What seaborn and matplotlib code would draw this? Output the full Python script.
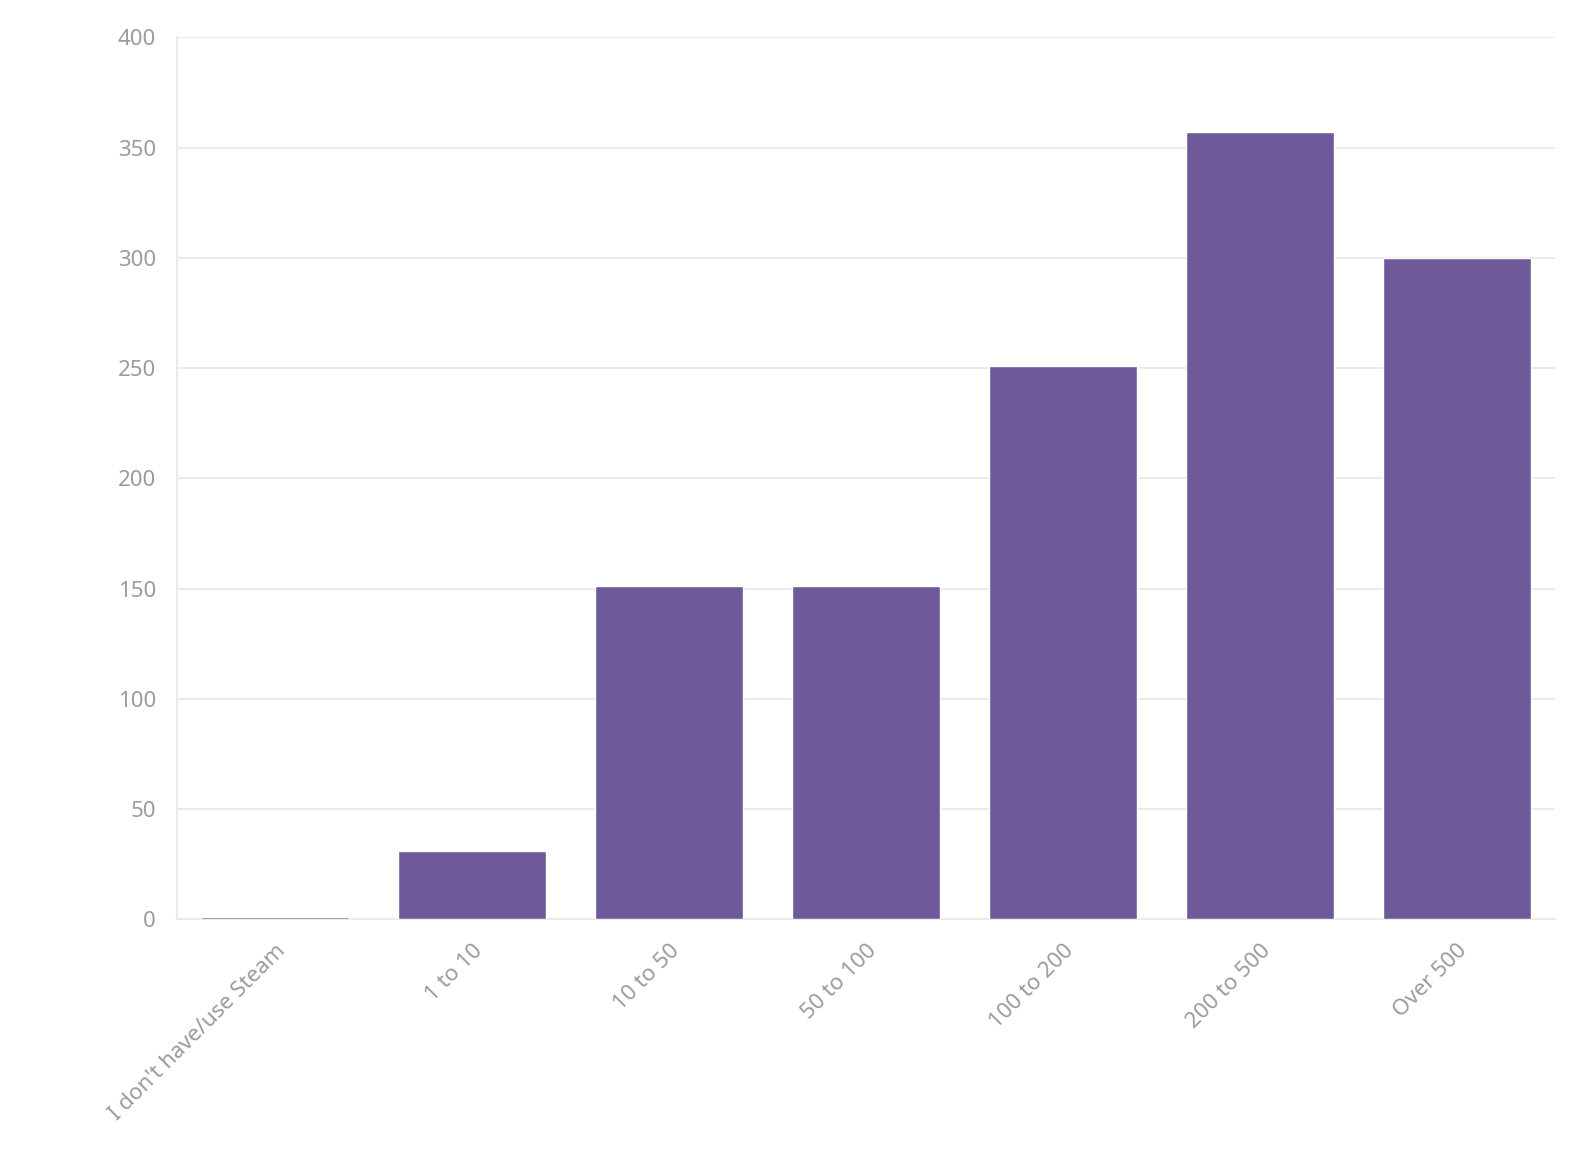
import seaborn as sns
import matplotlib.pyplot as plt
import pandas as pd

# hours played on steam (survey answers)
categories = ["I don't have/use Steam", '1 to 10', '10 to 50', '50 to 100',
              '100 to 200', '200 to 500', 'Over 500']
counts = [1, 31, 151, 151, 251, 357, 300]
y_ticks = [0, 50, 100, 150, 200, 250, 300, 350, 400]

bar_color = '#6e5a99'
grid_color = '#ebebeb'
text_color = '#9b9b9b'

df = pd.DataFrame({'answer': categories, 'count': counts})

sns.set_style('white')
plt.rcParams['font.family'] = ['Noto Sans', 'DejaVu Sans']

fig, ax = plt.subplots(figsize=(15.92, 11.5), dpi=100)
fig.subplots_adjust(left=0.111, right=0.977, top=0.9676, bottom=0.2006)

sns.barplot(data=df, x='answer', y='count', color=bar_color, width=0.75,
            saturation=1, ax=ax, zorder=3)

ax.set_xlim(-0.5, len(categories) - 0.5)
ax.set_ylim(0, 400)
ax.set_yticks(y_ticks)
ax.yaxis.grid(True, color=grid_color, linewidth=1.5, zorder=0)
ax.set_xlabel('')
ax.set_ylabel('')

for side in ['top', 'right']:
    ax.spines[side].set_visible(False)
ax.spines['left'].set_color(grid_color)
ax.spines['bottom'].set_color(grid_color)
ax.spines['left'].set_linewidth(1.5)
ax.spines['bottom'].set_linewidth(1.5)

ax.tick_params(axis='both', colors=grid_color, labelcolor=text_color,
               labelsize=16, length=9, width=1.5, pad=6)
plt.setp(ax.get_xticklabels(), rotation=45, ha='right', va='top',
         rotation_mode='anchor')

plt.savefig('out.png', dpi=100)
